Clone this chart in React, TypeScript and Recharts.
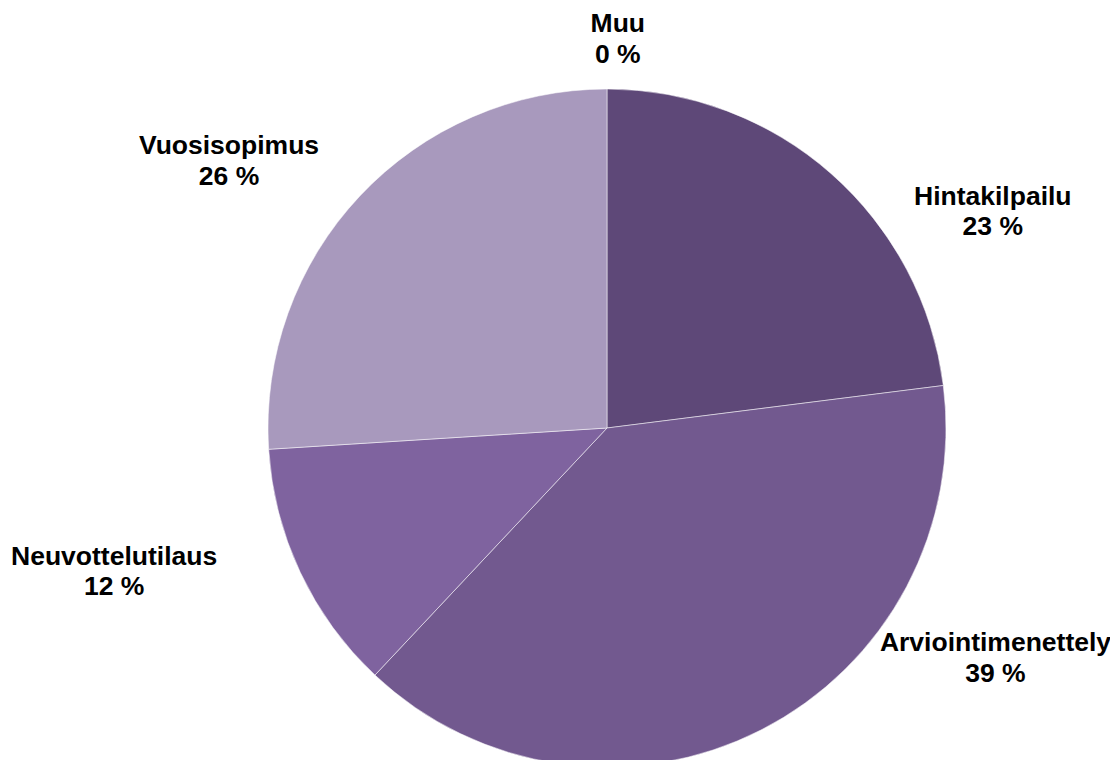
import React from "react";
import { PieChart, Pie, Cell } from "recharts";

const categories = ["Hintakilpailu", "Arviointimenettely", "Neuvottelutilaus", "Vuosisopimus", "Muu"];
const shares = [23, 39, 12, 26, 0];
const colors = ["#5E4878", "#72598F", "#7F639F", "#A899BD", "#C4B8D6"];

const data = categories.map((name, i) => ({ name, value: shares[i] }));

// label anchor offsets relative to pie center, in units of outer radius
const labelOffsets: Record<string, [number, number]> = {
  Hintakilpailu: [1.138, -0.658],
  Arviointimenettely: [1.146, 0.658],
  Neuvottelutilaus: [-1.454, 0.403],
  Vuosisopimus: [-1.115, -0.808],
  Muu: [0.032, -1.168],
};

const renderLabel = (props: any) => {
  const { cx, cy, outerRadius, name, value } = props;
  const off = labelOffsets[name] || [0, 0];
  const x = cx + off[0] * outerRadius;
  const y = cy + off[1] * outerRadius;
  return (
    <text
      x={x}
      y={y}
      textAnchor="middle"
      fill="#000"
      fontFamily="'Liberation Sans', Arial, sans-serif"
      fontWeight="bold"
      fontSize={26.5}
    >
      <tspan x={x} dy={0}>{name}</tspan>
      <tspan x={x} dy={30.5}>{`${value} %`}</tspan>
    </text>
  );
};

export default function App() {
  return (
    <div style={{ width: 1118, height: 760 }}>
      <PieChart width={1118} height={760} margin={{ top: 0, right: 0, bottom: 0, left: 0 }}>
        <Pie
          data={data}
          dataKey="value"
          nameKey="name"
          cx={599}
          cy={420}
          outerRadius={339}
          startAngle={90}
          endAngle={-270}
          stroke="#ffffff"
          strokeOpacity={0.5}
          strokeWidth={1}
          label={renderLabel}
          labelLine={false}
          isAnimationActive={false}
        >
          {data.map((d, i) => (
            <Cell key={d.name} fill={colors[i]} />
          ))}
        </Pie>
      </PieChart>
    </div>
  );
}
